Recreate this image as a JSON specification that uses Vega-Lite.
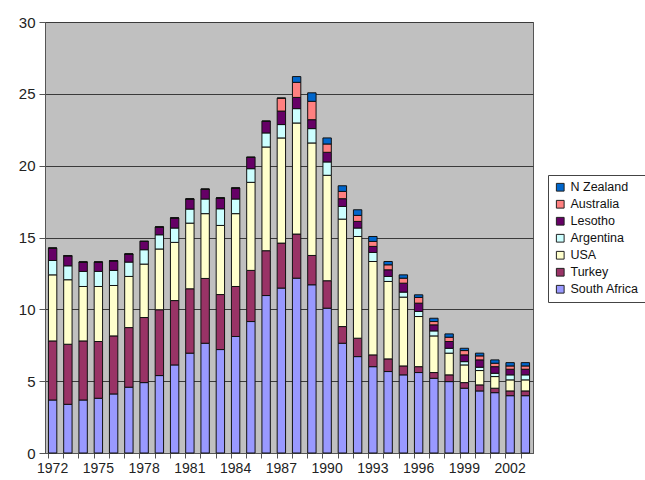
{
  "$schema": "https://vega.github.io/schema/vega-lite/v6.json",
  "autosize": "none",
  "width": 488,
  "height": 431,
  "padding": {"left": 45, "top": 22, "right": 112, "bottom": 27},
  "background": "white",
  "config": {
    "font": "Liberation Sans",
    "view": {"fill": "#C0C0C0", "stroke": "#555555", "strokeWidth": 1}
  },
  "data": {
    "values": [
      {"year": "1972", "South Africa": 3.69, "Turkey": 4.11, "USA": 4.6, "Argentina": 1.0, "Lesotho": 0.86, "Australia": 0, "N Zealand": 0},
      {"year": "1973", "South Africa": 3.39, "Turkey": 4.18, "USA": 4.49, "Argentina": 0.97, "Lesotho": 0.7, "Australia": 0, "N Zealand": 0},
      {"year": "1974", "South Africa": 3.69, "Turkey": 4.11, "USA": 3.79, "Argentina": 1.05, "Lesotho": 0.65, "Australia": 0, "N Zealand": 0},
      {"year": "1975", "South Africa": 3.81, "Turkey": 3.95, "USA": 3.83, "Argentina": 1.05, "Lesotho": 0.65, "Australia": 0, "N Zealand": 0},
      {"year": "1976", "South Africa": 4.11, "Turkey": 4.04, "USA": 3.51, "Argentina": 1.05, "Lesotho": 0.67, "Australia": 0, "N Zealand": 0},
      {"year": "1977", "South Africa": 4.58, "Turkey": 4.15, "USA": 3.56, "Argentina": 1.0, "Lesotho": 0.56, "Australia": 0, "N Zealand": 0},
      {"year": "1978", "South Africa": 4.9, "Turkey": 4.53, "USA": 3.72, "Argentina": 1.0, "Lesotho": 0.58, "Australia": 0, "N Zealand": 0},
      {"year": "1979", "South Africa": 5.39, "Turkey": 4.58, "USA": 4.23, "Argentina": 0.99, "Lesotho": 0.54, "Australia": 0, "N Zealand": 0},
      {"year": "1980", "South Africa": 6.13, "Turkey": 4.48, "USA": 4.05, "Argentina": 1.0, "Lesotho": 0.7, "Australia": 0, "N Zealand": 0},
      {"year": "1981", "South Africa": 6.95, "Turkey": 4.48, "USA": 4.57, "Argentina": 0.98, "Lesotho": 0.7, "Australia": 0, "N Zealand": 0},
      {"year": "1982", "South Africa": 7.64, "Turkey": 4.51, "USA": 4.51, "Argentina": 1.02, "Lesotho": 0.68, "Australia": 0, "N Zealand": 0},
      {"year": "1983", "South Africa": 7.2, "Turkey": 3.83, "USA": 4.81, "Argentina": 1.16, "Lesotho": 0.75, "Australia": 0, "N Zealand": 0},
      {"year": "1984", "South Africa": 8.11, "Turkey": 3.48, "USA": 5.07, "Argentina": 1.02, "Lesotho": 0.76, "Australia": 0, "N Zealand": 0},
      {"year": "1985", "South Africa": 9.15, "Turkey": 3.56, "USA": 6.13, "Argentina": 0.95, "Lesotho": 0.79, "Australia": 0, "N Zealand": 0},
      {"year": "1986", "South Africa": 10.96, "Turkey": 3.12, "USA": 7.22, "Argentina": 0.98, "Lesotho": 0.81, "Australia": 0, "N Zealand": 0},
      {"year": "1987", "South Africa": 11.48, "Turkey": 3.13, "USA": 7.32, "Argentina": 0.93, "Lesotho": 0.94, "Australia": 0.9, "N Zealand": 0},
      {"year": "1988", "South Africa": 12.17, "Turkey": 3.07, "USA": 7.73, "Argentina": 1.0, "Lesotho": 0.78, "Australia": 1.05, "N Zealand": 0.4},
      {"year": "1989", "South Africa": 11.71, "Turkey": 2.04, "USA": 7.83, "Argentina": 1.0, "Lesotho": 0.62, "Australia": 1.28, "N Zealand": 0.59},
      {"year": "1990", "South Africa": 10.08, "Turkey": 1.91, "USA": 7.34, "Argentina": 0.93, "Lesotho": 0.67, "Australia": 0.58, "N Zealand": 0.42},
      {"year": "1991", "South Africa": 7.64, "Turkey": 1.16, "USA": 7.48, "Argentina": 0.88, "Lesotho": 0.54, "Australia": 0.51, "N Zealand": 0.39},
      {"year": "1992", "South Africa": 6.71, "Turkey": 1.28, "USA": 7.08, "Argentina": 0.59, "Lesotho": 0.46, "Australia": 0.42, "N Zealand": 0.39},
      {"year": "1993", "South Africa": 6.01, "Turkey": 0.82, "USA": 6.5, "Argentina": 0.63, "Lesotho": 0.42, "Australia": 0.35, "N Zealand": 0.34},
      {"year": "1994", "South Africa": 5.67, "Turkey": 0.88, "USA": 5.39, "Argentina": 0.35, "Lesotho": 0.46, "Australia": 0.35, "N Zealand": 0.23},
      {"year": "1995", "South Africa": 5.44, "Turkey": 0.62, "USA": 4.79, "Argentina": 0.35, "Lesotho": 0.62, "Australia": 0.35, "N Zealand": 0.23},
      {"year": "1996", "South Africa": 5.6, "Turkey": 0.41, "USA": 3.49, "Argentina": 0.35, "Lesotho": 0.58, "Australia": 0.4, "N Zealand": 0.18},
      {"year": "1997", "South Africa": 5.2, "Turkey": 0.4, "USA": 2.55, "Argentina": 0.35, "Lesotho": 0.42, "Australia": 0.23, "N Zealand": 0.23},
      {"year": "1998", "South Africa": 4.97, "Turkey": 0.47, "USA": 1.51, "Argentina": 0.34, "Lesotho": 0.47, "Australia": 0.3, "N Zealand": 0.23},
      {"year": "1999", "South Africa": 4.51, "Turkey": 0.39, "USA": 1.23, "Argentina": 0.23, "Lesotho": 0.47, "Australia": 0.3, "N Zealand": 0.16},
      {"year": "2000", "South Africa": 4.32, "Turkey": 0.42, "USA": 1.0, "Argentina": 0.23, "Lesotho": 0.51, "Australia": 0.28, "N Zealand": 0.19},
      {"year": "2001", "South Africa": 4.2, "Turkey": 0.31, "USA": 0.81, "Argentina": 0.23, "Lesotho": 0.46, "Australia": 0.24, "N Zealand": 0.23},
      {"year": "2002", "South Africa": 3.99, "Turkey": 0.33, "USA": 0.77, "Argentina": 0.35, "Lesotho": 0.39, "Australia": 0.23, "N Zealand": 0.23},
      {"year": "2003", "South Africa": 3.99, "Turkey": 0.33, "USA": 0.77, "Argentina": 0.35, "Lesotho": 0.39, "Australia": 0.23, "N Zealand": 0.23}
    ]
  },
  "transform": [
    {"fold": ["South Africa", "Turkey", "USA", "Argentina", "Lesotho", "Australia", "N Zealand"], "as": ["country", "value"]},
    {"calculate": "indexof(['South Africa','Turkey','USA','Argentina','Lesotho','Australia','N Zealand'], datum.country)", "as": "stackIndex"}
  ],
  "mark": {"type": "bar", "stroke": "#111111", "strokeWidth": 1},
  "encoding": {
    "x": {
      "field": "year",
      "type": "ordinal",
      "scale": {"paddingInner": 0.45, "paddingOuter": 0.225},
      "axis": {
        "title": null,
        "labelAngle": 0,
        "labelExpr": "(toNumber(datum.value) - 1972) % 3 == 0 ? datum.value : ''",
        "labelFontSize": 14,
        "labelColor": "#222222",
        "labelPadding": 3,
        "tickColor": "#555555",
        "domainColor": "#555555",
        "tickSize": 5,
        "bandPosition": 0
      }
    },
    "y": {
      "field": "value",
      "type": "quantitative",
      "stack": "zero",
      "scale": {"domain": [0, 30], "nice": false},
      "axis": {
        "title": null,
        "values": [0, 5, 10, 15, 20, 25, 30],
        "labelFontSize": 15,
        "labelColor": "#222222",
        "labelPadding": 4,
        "tickColor": "#555555",
        "tickSize": 6,
        "domainColor": "#555555",
        "grid": true,
        "gridColor": "#3a3a3a",
        "gridWidth": 1
      }
    },
    "color": {
      "field": "country",
      "type": "nominal",
      "scale": {
        "domain": ["N Zealand", "Australia", "Lesotho", "Argentina", "USA", "Turkey", "South Africa"],
        "range": ["#0066CC", "#FF8080", "#660066", "#CCFFFF", "#FFFFCC", "#993366", "#9999FF"]
      },
      "legend": {
        "title": null,
        "orient": "none",
        "legendX": 503,
        "legendY": 153,
        "symbolType": "square",
        "symbolSize": 60,
        "symbolStrokeColor": "#222222",
        "symbolStrokeWidth": 1,
        "labelFontSize": 12.5,
        "labelColor": "#111111",
        "rowPadding": 4,
        "fillColor": "white",
        "strokeColor": "#444444",
        "padding": 6
      }
    },
    "order": {"field": "stackIndex", "type": "quantitative", "sort": "ascending"}
  }
}
